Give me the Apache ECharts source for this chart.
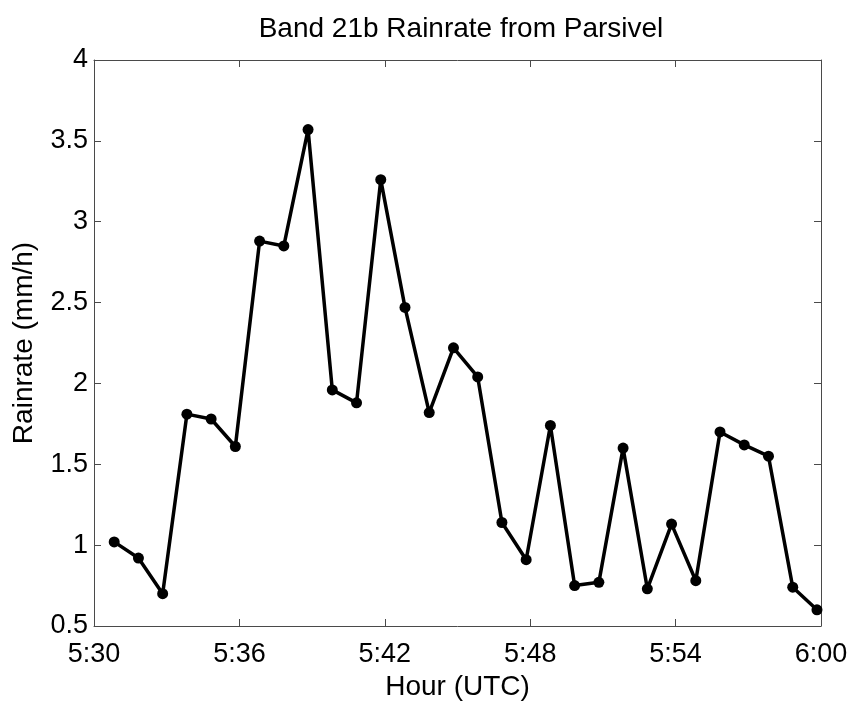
<!DOCTYPE html>
<html>
<head>
<meta charset="utf-8">
<script src="https://cdn.jsdelivr.net/npm/echarts@6/dist/echarts.min.js"></script>
<style>
html,body{margin:0;padding:0;background:#fff;}
#chart{width:854px;height:706px;}
</style>
</head>
<body>
<div id="chart"></div>
<script>
// Observation times (UTC)
var times = ["5:30:50","5:31:50","5:32:50","5:33:50","5:34:50","5:35:50","5:36:50","5:37:50","5:38:50","5:39:50",
             "5:40:50","5:41:50","5:42:50","5:43:50","5:44:50","5:45:50","5:46:50","5:47:50","5:48:50","5:49:50",
             "5:50:50","5:51:50","5:52:50","5:53:50","5:54:50","5:55:50","5:56:50","5:57:50","5:58:50","5:59:50"];
// Rain rate (mm/h)
var rainrate = [1.02,0.92,0.70,1.81,1.78,1.61,2.88,2.85,3.57,1.96,
                1.88,3.26,2.47,1.82,2.22,2.04,1.14,0.91,1.74,0.75,
                0.77,1.60,0.73,1.13,0.78,1.70,1.62,1.55,0.74,0.60];
var xTickLabels = ["5:30","5:36","5:42","5:48","5:54","6:00"];
var yTickLabels = ["0.5","1","1.5","2","2.5","3","3.5","4"];

function toMinutes(t){ var p=t.split(":").map(Number); return (p[0]*60+p[1]+p[2]/60) - (5*60+30); }
var data = times.map(function(t,i){ return [toMinutes(t), rainrate[i]]; });

var font = "'Liberation Sans', Arial, Helvetica, sans-serif";
var axisColor = '#4a4a4a';
var chart = echarts.init(document.getElementById('chart'));
chart.setOption({
  backgroundColor:'#fff',
  animation:false,
  title:{text:'Band 21b Rainrate from Parsivel', left:456, top:10, textAlign:'center',
    textStyle:{fontFamily:font, fontSize:28, fontWeight:'normal', color:'#000'}},
  grid:{left:94, right:33, top:60, bottom:79},
  xAxis:[{
    type:'value', min:0, max:30, interval:6,
    axisLine:{show:true, onZero:false, lineStyle:{color:axisColor, width:1}},
    axisTick:{show:true, inside:true, length:7, lineStyle:{color:axisColor}},
    splitLine:{show:false},
    axisLabel:{fontFamily:font, fontSize:27, color:'#000', margin:15,
      formatter:function(v){ return xTickLabels[Math.round(v/6)]; }},
    name:'Hour (UTC)', nameLocation:'middle', nameGap:47,
    nameTextStyle:{fontFamily:font, fontSize:28, color:'#000'}
  },{
    type:'value', min:0, max:30, interval:6, position:'top',
    axisLine:{show:true, onZero:false, lineStyle:{color:axisColor, width:1}},
    axisTick:{show:true, inside:true, length:7, lineStyle:{color:axisColor}},
    axisLabel:{show:false}, splitLine:{show:false}
  }],
  yAxis:[{
    type:'value', min:0.5, max:4, interval:0.5,
    axisLine:{show:true, onZero:false, lineStyle:{color:axisColor, width:1}},
    axisTick:{show:true, inside:true, length:7, lineStyle:{color:axisColor}},
    splitLine:{show:false},
    axisLabel:{fontFamily:font, fontSize:27, color:'#000', margin:6,
      formatter:function(v){ return yTickLabels[Math.round((v-0.5)/0.5)]; }},
    name:'Rainrate (mm/h)', nameLocation:'middle', nameGap:56, nameRotate:90,
    nameTextStyle:{fontFamily:font, fontSize:28, color:'#000'}
  },{
    type:'value', min:0.5, max:4, interval:0.5, position:'right',
    axisLine:{show:true, onZero:false, lineStyle:{color:axisColor, width:1}},
    axisTick:{show:true, inside:true, length:7, lineStyle:{color:axisColor}},
    axisLabel:{show:false}, splitLine:{show:false}
  }],
  series:[{
    type:'line', xAxisIndex:0, yAxisIndex:0, data:data,
    symbol:'circle', symbolSize:11, showAllSymbol:true,
    lineStyle:{color:'#000', width:3.5},
    itemStyle:{color:'#000'},
    clip:false
  }]
});
</script>
</body>
</html>
